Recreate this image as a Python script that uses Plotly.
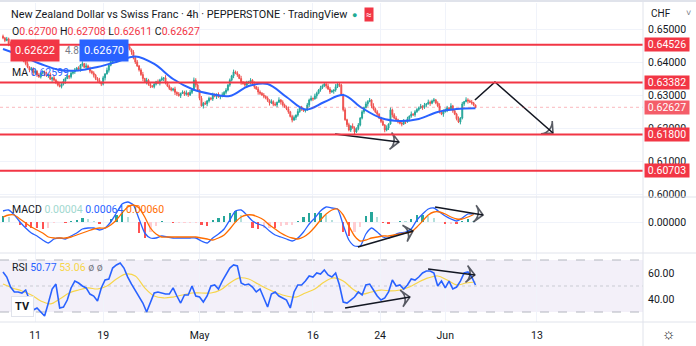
import plotly.graph_objects as go
from plotly.subplots import make_subplots

# ---------------- data ----------------
# 4h candles, closes in pips (x 0.0001 CHF); each candle opens at the previous close
FIRST_OPEN_PIPS = 6478
CLOSE_PIPS = [
    6473, 6465, 6470, 6455, 6450, 6441, 6446, 6430, 6421, 6412,
    6418, 6402, 6395, 6385, 6376, 6380, 6368, 6372, 6361, 6355,
    6366, 6370, 6364, 6358, 6362, 6348, 6352, 6345, 6338, 6330,
    6326, 6333, 6342, 6350, 6358, 6355, 6366, 6370, 6376, 6382,
    6378, 6391, 6395, 6384, 6388, 6380, 6372, 6367, 6360, 6350,
    6345, 6338, 6333, 6352, 6364, 6375, 6390, 6400, 6410, 6421,
    6418, 6430, 6436, 6442, 6435, 6448, 6446, 6438, 6430, 6412,
    6400, 6388, 6376, 6362, 6350, 6339, 6345, 6332, 6327, 6325,
    6333, 6340, 6336, 6345, 6350, 6352, 6338, 6327, 6320, 6315,
    6318, 6308, 6303, 6298, 6305, 6309, 6302, 6306, 6300, 6308,
    6315, 6345, 6330, 6315, 6290, 6267, 6275, 6273, 6282, 6290,
    6288, 6300, 6296, 6302, 6294, 6298, 6300, 6308, 6315, 6330,
    6345, 6358, 6370, 6366, 6361, 6350, 6339, 6335, 6330, 6336,
    6339, 6345, 6333, 6325, 6318, 6309, 6305, 6300, 6296, 6291,
    6284, 6276, 6280, 6272, 6270, 6278, 6285, 6279, 6270, 6264,
    6258, 6249, 6235, 6224, 6232, 6239, 6250, 6261, 6258, 6252,
    6255, 6270, 6285, 6290, 6288, 6297, 6305, 6315, 6322, 6328,
    6333, 6327, 6318, 6309, 6312, 6315, 6325, 6333, 6330, 6300,
    6255, 6225, 6210, 6194, 6206, 6200, 6188, 6198, 6209, 6230,
    6249, 6262, 6273, 6280, 6285, 6267, 6258, 6249, 6242, 6230,
    6220, 6209, 6194, 6200, 6212, 6255, 6240, 6230, 6225, 6218,
    6215, 6212, 6220, 6218, 6228, 6236, 6242, 6240, 6249, 6256,
    6261, 6266, 6262, 6270, 6273, 6278, 6275, 6282, 6285, 6276,
    6267, 6250, 6242, 6249, 6255, 6261, 6258, 6267, 6252, 6242,
    6228, 6218, 6230, 6273, 6280, 6285, 6282, 6279, 6276, 6270,
    6262.7,
]
# wick lengths in pips, one digit per candle
UPPER_WICK_DIGITS = (
    "5364728354" "4637254836" "3547263845" "6374528463" "5372846354"
    "4736285463" "5683742536" "4635827463" "5374628354" "4736254837"
    "3865274635" "4753628463" "5374628357" "4638275463" "5374628354"
    "4735628463" "3648275364" "5376428354" "4736285463" "5374628453"
    "4638274563" "5374628354" "4736285463" "5837462835" "4736285463"
    "1"
)
LOWER_WICK_DIGITS = (
    "4527364853" "6354728463" "5473628354" "3648275463" "4752836475"
    "5364827354" "4738265384" "6354827463" "5437286354" "4863725463"
    "5374628375" "4638275364" "5473628453" "3746285364" "5836472853"
    "4637285463" "5374628354" "4736285463" "5374628354" "4638275463"
    "5374628354" "4736285463" "5374628354" "4638275463" "5374628354"
    "2"
)

# moving average on price, one value every 10 candles (pips)
MA_STEP = 10
MA_PIPS = [6439.4, 6418.2, 6394.0, 6375.8, 6374.3, 6384.9, 6400.0, 6416.7, 6394.0,
           6348.5, 6318.2, 6303.0, 6297.0, 6327.3, 6333.4, 6293.9, 6256.1, 6278.8,
           6300.0, 6260.6, 6230.3, 6221.2, 6227.3, 6248.5, 6257.6, 6259.9]

# MACD and signal, one value every 3 candles (x 0.00001)
MACD_STEP = 3
MACD_E5 = [88, 96, 56, 0, -48, -88, -112, -144, -168, -136,
           -128, -136, -112, -88, -56, -48, -48, -64, -48, 0,
           72, 144, 160, 136, 24, -88, -128, -128, -112, -120,
           -128, -128, -128, -128, -128, -152, -168, -128, -96, -56,
           16, 88, 96, 56, 8, -16, -32, -72, -104, -120,
           -136, -152, -128, -80, -16, 32, 88, 120, 112, 104,
           -24, -144, -192, -192, -96, -48, -80, -120, -128, -104,
           -88, -80, -56, 16, 64, 104, 112, 80, 48, 24,
           8, 32, 64, 64]
SIGNAL_E5 = [40, 56, 56, 24, -8, -40, -64, -88, -120, -128,
             -128, -128, -120, -104, -88, -72, -56, -48, -48, -24,
             16, 72, 120, 136, 112, 40, -48, -96, -120, -120,
             -120, -120, -120, -120, -120, -128, -136, -144, -128, -104,
             -56, 0, 40, 56, 56, 40, 16, -24, -56, -88,
             -112, -128, -136, -120, -88, -40, 16, 64, 96, 104,
             56, -32, -112, -152, -144, -128, -120, -112, -112, -104,
             -96, -88, -80, -40, 8, 56, 80, 80, 64, 40,
             24, 24, 40, 60]

# RSI, one value every 2 candles; its moving average every 5 candles
RSI_STEP = 2
RSI = [60.8, 56.9, 49.2, 45.4, 45.4, 44.6, 46.9, 39.2, 31.5, 33.1,
       30.0, 26.9, 36.9, 47.7, 51.5, 33.1, 33.8, 39.2, 48.5, 53.8,
       52.3, 50.0, 48.5, 43.8, 42.3, 38.5, 48.5, 54.6, 55.4, 63.8,
       66.2, 67.7, 63.8, 56.9, 51.5, 46.9, 41.5, 36.9, 30.0, 37.7,
       44.6, 45.4, 44.6, 43.8, 43.8, 48.5, 42.3, 36.9, 43.1, 43.1,
       50.0, 42.3, 41.5, 37.7, 42.3, 50.0, 50.8, 47.7, 53.8, 59.2,
       63.8, 66.2, 65.4, 52.3, 50.8, 51.5, 49.2, 45.4, 47.7, 40.8,
       33.8, 43.8, 45.4, 42.3, 40.8, 39.2, 33.1, 45.4, 50.8, 50.8,
       53.8, 57.7, 56.9, 60.0, 59.2, 62.3, 58.5, 56.9, 60.0, 50.8,
       37.7, 36.9, 39.2, 41.5, 45.4, 43.1, 50.8, 51.5, 46.9, 42.3,
       39.2, 40.8, 45.4, 54.6, 50.0, 50.8, 47.7, 50.8, 55.4, 54.6,
       56.9, 60.0, 61.5, 61.5, 60.0, 50.0, 53.8, 48.5, 53.8, 47.7,
       49.2, 53.8, 60.0, 60.8, 56.9, 50.77]
RSI_MA_STEP = 5
RSI_MA = [51.5, 48.5, 46.2, 43.1, 38.5, 36.2, 40.0, 44.6, 46.9, 48.5,
          47.7, 50.0, 55.4, 59.2, 57.7, 48.5, 42.3, 40.8, 41.5, 43.1,
          44.6, 44.6, 44.6, 46.9, 52.3, 56.2, 55.4, 51.5, 47.7, 44.6,
          42.3, 41.5, 44.6, 47.7, 53.1, 56.2, 53.8, 47.7, 43.8, 45.4,
          46.9, 46.2, 46.9, 49.2, 53.1, 56.2, 57.7, 54.6, 50.8, 52.3,
          53.06]

LEVELS = [0.64526, 0.63382, 0.61800, 0.60703]
LAST_PRICE = 0.62627
PRICE_TICKS = [0.60, 0.61, 0.62, 0.63, 0.64, 0.65]
TICK_IDX = [17, 53, 104, 164, 199.5, 234, 282.5]
TICK_TEXT = ["11", "19", "May", "16", "24", "Jun", "13"]

# hand-drawn arrows (candle index, value)
PRICE_ARROWS = [[(175.7, 0.61818), (209.5, 0.61576)],
                [(249.7, 0.62848), (260.3, 0.63394), (291.0, 0.61848)]]
MACD_ARROWS = [[(187.8, -0.00200), (216.9, -0.00072)],
               [(228.6, 0.00120), (254.0, 0.00056)]]
RSI_ARROWS = [[(181.0, 33.1), (215.3, 41.5)],
              [(224.9, 63.1), (249.7, 58.5)]]

# ---------------- build ----------------
PIP = 0.0001
n = len(CLOSE_PIPS)
idx = list(range(n))
close = [c * PIP for c in CLOSE_PIPS]
opens = [FIRST_OPEN_PIPS * PIP] + close[:-1]
upw = [int(d) * PIP for d in UPPER_WICK_DIGITS]
loww = [int(d) * PIP for d in LOWER_WICK_DIGITS]
high = [max(o, c) + w for o, c, w in zip(opens, close, upw)]
low = [min(o, c) - w for o, c, w in zip(opens, close, loww)]

ma_x = [k * MA_STEP for k in range(len(MA_PIPS))]
ma_y = [v * PIP for v in MA_PIPS]
macd_x = [k * MACD_STEP for k in range(len(MACD_E5))]
macd = [v * 1e-5 for v in MACD_E5]
signal = [v * 1e-5 for v in SIGNAL_E5]
hist = [m - s for m, s in zip(macd, signal)]
hist_col = []
for k, h in enumerate(hist):
    prev = hist[k - 1] if k else h
    if h >= 0:
        hist_col.append('#26A69A' if h >= prev else '#B2DFDB')
    else:
        hist_col.append('#FFCDD2' if h >= prev else '#FF5252')
rsi_x = [k * RSI_STEP for k in range(len(RSI))]
rsima_x = [k * RSI_MA_STEP for k in range(len(RSI_MA))]

FONT = "Roboto, Arial, sans-serif"
TXT = '#131722'
GRID = '#f0f3fa'
RED = '#f23645'


def px(x):
    return x / 643.0


def py(y):
    return (322.0 - y) / 319.0


fig = make_subplots(rows=3, cols=1, shared_xaxes=True, vertical_spacing=0)

fig.add_trace(go.Candlestick(
    x=idx, open=opens, high=high, low=low, close=close,
    increasing=dict(line=dict(color='#26a69a', width=1), fillcolor='#26a69a'),
    decreasing=dict(line=dict(color='#ef5350', width=1), fillcolor='#ef5350'),
    whiskerwidth=0, hoverinfo='skip'), row=1, col=1)
fig.add_trace(go.Scatter(x=ma_x, y=ma_y, mode='lines',
                         line=dict(color='#2962ff', width=2, shape='spline', smoothing=1.0),
                         hoverinfo='skip'), row=1, col=1)

fig.add_trace(go.Bar(x=macd_x, y=hist, marker=dict(color=hist_col, line=dict(width=0)),
                     width=1.2, hoverinfo='skip'), row=2, col=1)
fig.add_trace(go.Scatter(x=macd_x, y=macd, mode='lines',
                         line=dict(color='#2962ff', width=1.3, shape='spline', smoothing=0.6),
                         hoverinfo='skip'), row=2, col=1)
fig.add_trace(go.Scatter(x=macd_x, y=signal, mode='lines',
                         line=dict(color='#ff6d00', width=1.3, shape='spline', smoothing=0.6),
                         hoverinfo='skip'), row=2, col=1)

fig.add_trace(go.Scatter(x=rsima_x, y=RSI_MA, mode='lines',
                         line=dict(color='#f7d54a', width=1.2, shape='spline', smoothing=1.0),
                         hoverinfo='skip'), row=3, col=1)
fig.add_trace(go.Scatter(x=rsi_x, y=RSI, mode='lines',
                         line=dict(color='#2962ff', width=1.6),
                         hoverinfo='skip'), row=3, col=1)


def add_arrow(points, row):
    xs = [p[0] for p in points]
    ys = [p[1] for p in points]
    m = len(points)
    fig.add_trace(go.Scatter(
        x=xs, y=ys, mode='lines+markers',
        line=dict(color='#131722', width=1.6),
        marker=dict(symbol=['circle'] * (m - 1) + ['arrow-wide-open'],
                    size=[0] * (m - 1) + [12], angleref='previous',
                    color='#131722', line=dict(color='#131722', width=1.6)),
        hoverinfo='skip'), row=row, col=1)


for a in PRICE_ARROWS:
    add_arrow(a, 1)
for a in MACD_ARROWS:
    add_arrow(a, 2)
for a in RSI_ARROWS:
    add_arrow(a, 3)

XR = [(0 - 3) / 1.89, (643 - 3) / 1.89]
for r in (1, 2, 3):
    fig.update_xaxes(row=r, col=1, range=XR, tickvals=TICK_IDX, ticktext=TICK_TEXT,
                     showgrid=True, gridcolor=GRID, gridwidth=1, zeroline=False,
                     showline=False, ticks='', rangeslider_visible=False,
                     showticklabels=(r == 3),
                     tickfont=dict(family=FONT, size=10.5, color=TXT),
                     ticklabelstandoff=5)

fig.update_layout(
    width=696, height=346,
    margin=dict(l=0, r=53, t=3, b=24),
    paper_bgcolor='white', plot_bgcolor='white',
    showlegend=False, bargap=0,
    font=dict(family=FONT, color=TXT),
    yaxis=dict(domain=[py(197), 1.0], side='right', range=[0.599091, 0.657879],
               tickvals=PRICE_TICKS, tickformat='.5f', showgrid=True, gridcolor=GRID,
               zeroline=False, ticks='', ticklabelstandoff=4,
               tickfont=dict(family=FONT, size=10.5, color=TXT)),
    yaxis2=dict(domain=[py(253), py(197)], side='right', range=[-0.00248, 0.002],
                tickvals=[0], tickformat='.5f', showgrid=True, gridcolor=GRID,
                zeroline=False, ticks='', ticklabelstandoff=4,
                tickfont=dict(family=FONT, size=10.5, color=TXT)),
    yaxis3=dict(domain=[0, py(253)], side='right', range=[22.308, 75.385],
                tickvals=[40, 60], tickformat='.2f', showgrid=False,
                zeroline=False, ticks='', ticklabelstandoff=4,
                tickfont=dict(family=FONT, size=10.5, color=TXT)),
)

shapes = []
# RSI band and guide lines
shapes.append(dict(type='rect', xref='x3 domain', yref='y3', x0=0, x1=1, y0=30, y1=70,
                   fillcolor='rgba(126,87,194,0.09)', line=dict(width=0), layer='below'))
for lv, dash, col in ((70, 'dash', '#b2b5be'), (50, 'dot', '#c9cbd3'), (30, 'dash', '#b2b5be')):
    shapes.append(dict(type='line', xref='x3 domain', yref='y3', x0=0, x1=1, y0=lv, y1=lv,
                       line=dict(color=col, width=1, dash=dash), layer='below'))
# horizontal levels
for lv in LEVELS:
    shapes.append(dict(type='line', xref='x domain', yref='y', x0=0, x1=1, y0=lv, y1=lv,
                       line=dict(color=RED, width=2)))
shapes.append(dict(type='line', xref='x domain', yref='y', x0=0, x1=1, y0=LAST_PRICE,
                   y1=LAST_PRICE, line=dict(color='rgba(242,54,69,0.35)', width=1, dash='dot')))
# pane separators and frame
SEP = '#e0e3eb'
for yy in (197, 253, 322):
    shapes.append(dict(type='line', xref='paper', yref='paper', x0=0, x1=696 / 643.0,
                       y0=py(yy), y1=py(yy), line=dict(color=SEP, width=1)))
shapes.append(dict(type='line', xref='paper', yref='paper', x0=1, x1=1,
                   y0=py(346), y1=py(0), line=dict(color=SEP, width=1)))
shapes.append(dict(type='line', xref='paper', yref='paper', x0=0, x1=696 / 643.0,
                   y0=py(1), y1=py(1), line=dict(color=SEP, width=2)))
fig.update_layout(shapes=shapes)

ann = []


def label(x, y, text, size=11, color=TXT, **kw):
    d = dict(x=px(x), y=py(y), xref='paper', yref='paper', text=text, showarrow=False,
             xanchor='left', yanchor='middle', font=dict(family=FONT, size=size, color=color))
    d.update(kw)
    ann.append(d)


label(9, 15, "New Zealand Dollar vs Swiss Franc · 4h · PEPPERSTONE · TradingView", size=10.8)
label(350, 15, "●", size=9, color='#22ab94')
label(364, 15, "≈", size=10, color='white', bgcolor='#f23645', borderpad=1)
label(10, 31,
      "O<span style='color:#f23645'>0.62700</span> H<span style='color:#f23645'>0.62708</span> "
      "L<span style='color:#f23645'>0.62611</span> C<span style='color:#f23645'>0.62627</span>",
      size=10.5)
label(10, 50, "0.62622", size=11, color='white', bgcolor=RED, borderpad=4)
label(63, 50, "4.8", size=10, color='#787b86')
label(79, 50, "0.62670", size=11, color='white', bgcolor='#2962ff', borderpad=4)
label(10, 72, "MA <span style='color:#2962ff'>0.62599</span>", size=10.5)
label(10, 209,
      "MACD <span style='color:#9fd8cf'>0.00004</span> <span style='color:#2962ff'>0.00064</span> "
      "<span style='color:#ff6d00'>0.00060</span>", size=10.5)
label(10, 267,
      "RSI <span style='color:#2962ff'>50.77</span> <span style='color:#f7d54a'>53.06</span> "
      "<span style='color:#787b86'>ø ø</span>", size=10.5)
label(649, 13, "CHF", size=10)
label(684, 13, "˅", size=9, color='#787b86')
label(660, 334, "☼", size=15)
label(11, 306, "<b>TV</b>", size=11, bgcolor='white', bordercolor='#e0e3eb', borderwidth=1,
      borderpad=3)

for lv in LEVELS + [LAST_PRICE]:
    ann.append(dict(x=644 / 643.0, y=lv, xref='paper', yref='y', text=f"{lv:.5f}",
                    showarrow=False, xanchor='left', yanchor='middle',
                    font=dict(family=FONT, size=10.5, color='white'),
                    bgcolor=('#f45d69' if lv == LAST_PRICE else RED),
                    borderpad=2, width=40, height=9))
fig.update_layout(annotations=ann)

fig.write_html("out.html", config={'displayModeBar': False})
